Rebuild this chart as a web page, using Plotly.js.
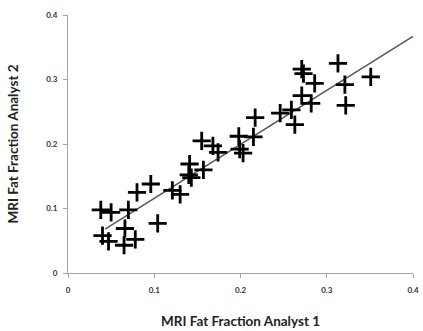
<!DOCTYPE html>
<html><head><meta charset="utf-8">
<script src="https://cdn.plot.ly/plotly-3.0.1.min.js"></script>
<style>html,body{margin:0;padding:0;background:#fff}#c{width:423px;height:331px}</style>
</head><body><div id="c"></div>
<script>
const analyst1 = [0.038, 0.050, 0.070, 0.080, 0.096, 0.040, 0.047, 0.066, 0.065, 0.078, 0.104, 0.121, 0.130, 0.141, 0.140, 0.143, 0.157, 0.155, 0.168, 0.174, 0.198, 0.199, 0.203, 0.215, 0.217, 0.246, 0.259, 0.263, 0.271, 0.282, 0.271, 0.273, 0.286, 0.313, 0.321, 0.322, 0.351];
const analyst2 = [0.098, 0.094, 0.098, 0.125, 0.138, 0.058, 0.049, 0.069, 0.043, 0.052, 0.077, 0.128, 0.122, 0.169, 0.152, 0.148, 0.160, 0.205, 0.197, 0.187, 0.212, 0.192, 0.186, 0.211, 0.241, 0.248, 0.253, 0.230, 0.275, 0.263, 0.316, 0.309, 0.294, 0.325, 0.292, 0.260, 0.304];
const trendX = [0.043, 0.400];
const trendY = [0.068, 0.367];
const tickVals = [0, 0.1, 0.2, 0.3, 0.4];
const tickText = ["0", "0.1", "0.2", "0.3", "0.4"];

const font = "Lato, 'Open Sans', sans-serif";
const axisCommon = {
  range: [0, 0.4], tickvals: tickVals, ticktext: tickText,
  showline: true, linecolor: '#a6a6a6', linewidth: 1,
  ticks: 'outside', ticklen: 4, tickcolor: '#a6a6a6', tickwidth: 1,
  showgrid: false, zeroline: false,
  tickfont: {family: font, size: 8, color: '#333', weight: 700}
};
const data = [
  {x: trendX, y: trendY, mode: 'lines', line: {color: '#555', width: 1.5}, hoverinfo: 'skip'},
  {x: analyst1, y: analyst2, mode: 'markers',
   marker: {symbol: 'cross-thin', size: 13, color: '#000', line: {color: '#000', width: 2.8}}}
];
const layout = {
  width: 423, height: 331, showlegend: false,
  paper_bgcolor: '#fff', plot_bgcolor: '#fff',
  margin: {l: 68, r: 10, t: 15, b: 58},
  xaxis: Object.assign({}, axisCommon, {
    ticklabelstandoff: 5,
    title: {text: 'MRI Fat Fraction Analyst 1', standoff: 22, font: {family: font, size: 13.5, color: '#222', weight: 700}}
  }),
  yaxis: Object.assign({}, axisCommon, {
    ticklabelstandoff: 4,
    title: {text: 'MRI Fat Fraction Analyst 2', standoff: 24, font: {family: font, size: 13.5, color: '#222', weight: 700}}
  })
};
Plotly.newPlot('c', data, layout, {staticPlot: true, displayModeBar: false});
</script>
</body></html>
